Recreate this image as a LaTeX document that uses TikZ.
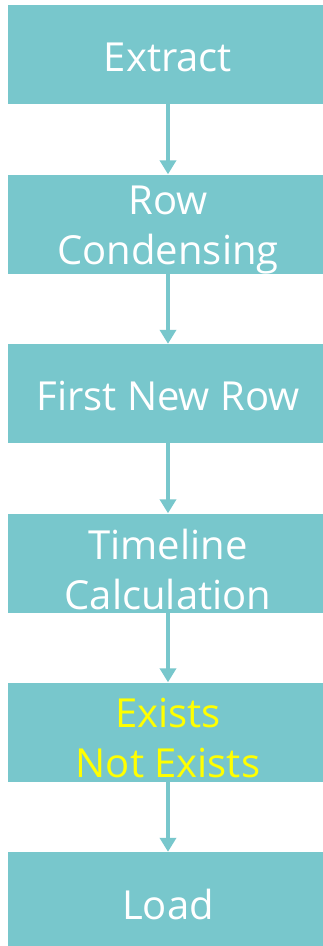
\documentclass[tikz,border=0pt]{standalone}
\usepackage{fontspec}
\setmainfont{Open Sans}
\usetikzlibrary{arrows.meta}
\definecolor{teal1}{RGB}{120,199,204}
\definecolor{yel}{RGB}{255,255,0}
\tikzset{
  stage/.style={fill=teal1, draw=none, minimum width=320pt, minimum height=99pt,
    inner sep=0pt},
  txt/.style={inner sep=0pt, align=center, text=white,
    font=\fontsize{40pt}{50pt}\selectfont},
  flow/.style={draw=teal1, line width=4pt, -{Triangle[width=16pt,length=14pt]}}
}
\begin{document}
\begin{tikzpicture}[x=1pt,y=-1pt]
\clip (0,0) rectangle (323,946);
\fill[white] (0,0) rectangle (323,946);
\node[stage] (a) at (168,54.5) {};
\node[stage] (b) at (168,224) {};
\node[stage] (c) at (168,393.5) {};
\node[stage] (d) at (168,563) {};
\node[stage] (e) at (168,732) {};
\node[stage] (f) at (168,901.5) {};
\node[txt] (at) at ([yshift=-3pt]a.center) {Extract};
\node[txt] (bt) at ([yshift=-6.5pt]b.center) {Row\\Condensing};
\node[txt] (ct) at ([yshift=-3pt]c.center) {First New Row};
\node[txt] (dt) at ([yshift=-6.5pt]d.center) {Timeline\\Calculation};
\node[txt, text=yel] (et) at ([yshift=-6.5pt]e.center) {Exists\\Not Exists};
\node[txt] (ft) at ([yshift=-3pt]f.center) {Load};
\draw[flow] (a) -- (b);
\draw[flow] (b) -- (c);
\draw[flow] (c) -- (d);
\draw[flow] (d) -- (e);
\draw[flow] (e) -- (f);
\end{tikzpicture}
\end{document}
